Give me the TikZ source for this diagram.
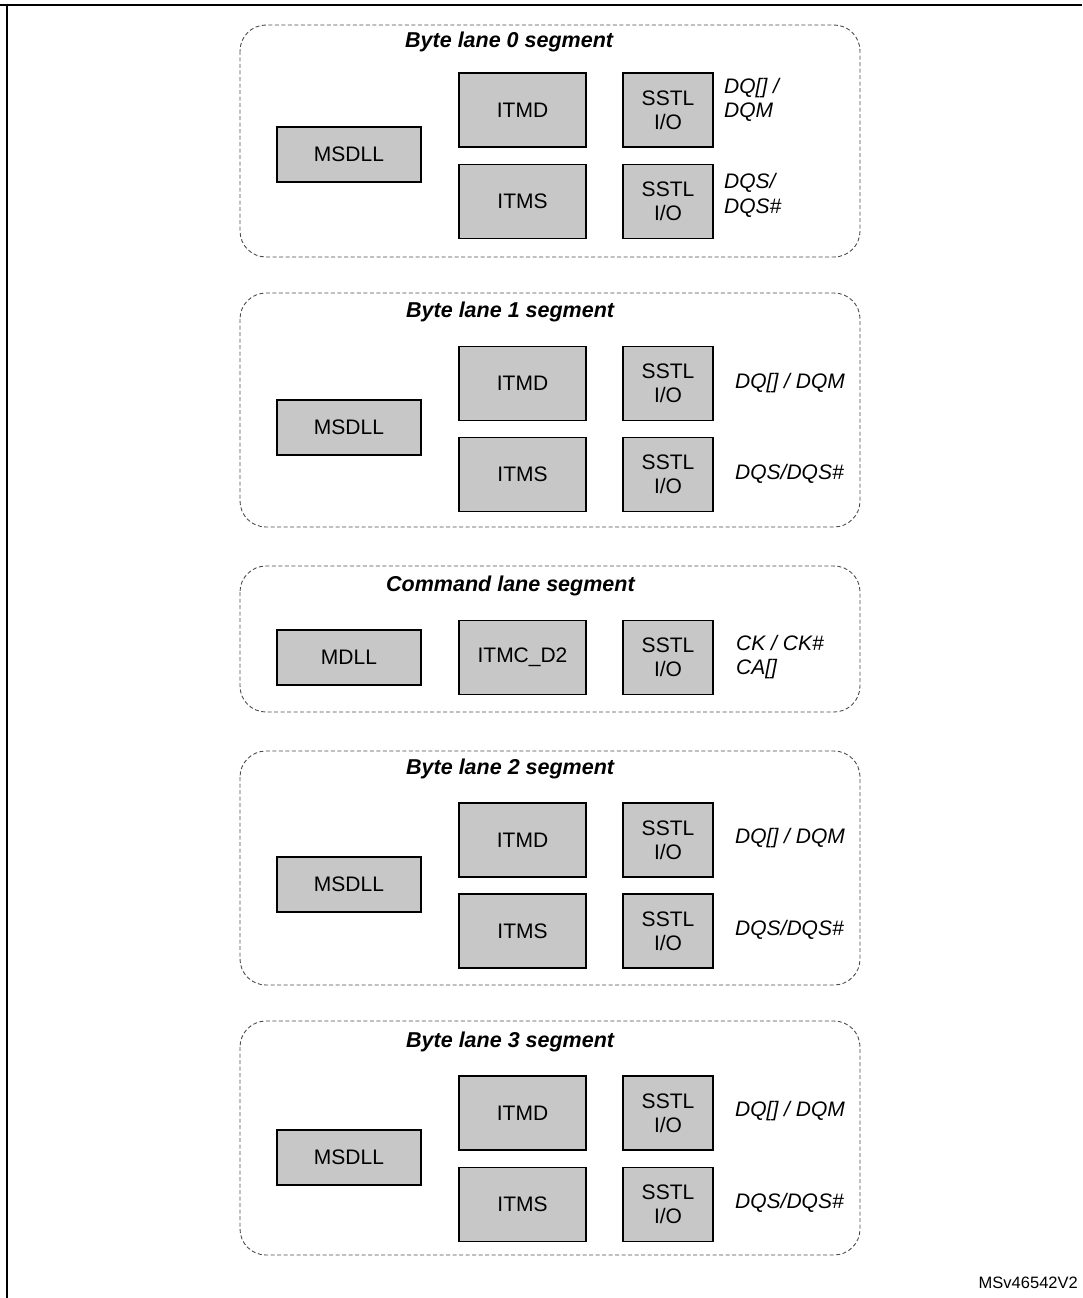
\documentclass[tikz,border=0pt]{standalone}
\usepackage{fontspec}
\setmainfont{Liberation Sans}
\begin{document}
\begin{tikzpicture}[x=1pt,y=-1pt,
  seg/.style={draw=black!70,dash pattern=on 4pt off 2.5pt,rounded corners=26pt,line width=0.9pt},
  blk/.style={draw=black,fill=black!22,line width=1.1pt,font=\fontsize{21}{24}\selectfont,align=center,inner sep=0pt},
  dll/.style={blk,minimum width=144pt,minimum height=55pt},
  itm/.style={blk,minimum width=127pt,minimum height=74pt},
  sstl/.style={blk,minimum width=90pt,minimum height=74pt},
  ttl/.style={font=\fontsize{21.5}{24}\selectfont\bfseries\itshape,anchor=west,inner sep=0pt},
  sig/.style={font=\fontsize{21}{24.5}\selectfont\itshape,anchor=west,align=left,inner sep=0pt}]
\useasboundingbox (0,0) rectangle (1082,1298);
% frame
\draw[line width=2.5pt] (0,5) -- (1082,5);
\draw[line width=1.2pt] (7,5) -- (7,1298);
% ---- Byte lane 0
\draw[seg] (240,25) rectangle (860,257);
\node[ttl] (t0) at (405,42) {Byte lane 0 segment};
\node[dll] (m0) at (349,154.5) {MSDLL};
\node[itm] (d0) at (522.5,110) {ITMD};
\node[itm] (s0) at (522.5,201.5) {ITMS};
\node[sstl] (io0a) at (668,110) {SSTL\\I/O};
\node[sstl] (io0b) at (668,201.5) {SSTL\\I/O};
\node[sig] (l0a) at (724,100) {DQ[] /\\DQM};
\node[sig] (l0b) at (724,195.5) {DQS/\\DQS\#};
% ---- Byte lane 1
\draw[seg] (240,293) rectangle (860,527);
\node[ttl] (t1) at (406,312) {Byte lane 1 segment};
\node[dll] (m1) at (349,427.5) {MSDLL};
\node[itm] (d1) at (522.5,383.5) {ITMD};
\node[itm] (s1) at (522.5,474.5) {ITMS};
\node[sstl] (io1a) at (668,383.5) {SSTL\\I/O};
\node[sstl] (io1b) at (668,474.5) {SSTL\\I/O};
\node[sig] (l1a) at (735,383) {DQ[] / DQM};
\node[sig] (l1b) at (735,474) {DQS/DQS\#};
% ---- Command lane
\draw[seg] (240,566) rectangle (860,712);
\node[ttl] (tc) at (386,586) {Command lane segment};
\node[dll] (mc) at (349,657.5) {MDLL};
\node[itm] (dc) at (522.5,657.5) {ITMC\_D2};
\node[sstl] (ioc) at (668,657.5) {SSTL\\I/O};
\node[sig] (lc) at (736,657) {CK / CK\#\\CA[]};
% ---- Byte lane 2
\draw[seg] (240,751) rectangle (860,985);
\node[ttl] (t2) at (406,769) {Byte lane 2 segment};
\node[dll] (m2) at (349,884.5) {MSDLL};
\node[itm] (d2) at (522.5,840) {ITMD};
\node[itm] (s2) at (522.5,931) {ITMS};
\node[sstl] (io2a) at (668,840) {SSTL\\I/O};
\node[sstl] (io2b) at (668,931) {SSTL\\I/O};
\node[sig] (l2a) at (735,838) {DQ[] / DQM};
\node[sig] (l2b) at (735,930) {DQS/DQS\#};
% ---- Byte lane 3
\draw[seg] (240,1021) rectangle (860,1255);
\node[ttl] (t3) at (406,1042) {Byte lane 3 segment};
\node[dll] (m3) at (349,1157.5) {MSDLL};
\node[itm] (d3) at (522.5,1113) {ITMD};
\node[itm] (s3) at (522.5,1204.5) {ITMS};
\node[sstl] (io3a) at (668,1113) {SSTL\\I/O};
\node[sstl] (io3b) at (668,1204.5) {SSTL\\I/O};
\node[sig] (l3a) at (735,1111) {DQ[] / DQM};
\node[sig] (l3b) at (735,1203) {DQS/DQS\#};
% id
\node[font=\fontsize{16.5}{19}\selectfont,anchor=east,inner sep=0pt] (id) at (1078,1283) {MSv46542V2};
\end{tikzpicture}
\end{document}
